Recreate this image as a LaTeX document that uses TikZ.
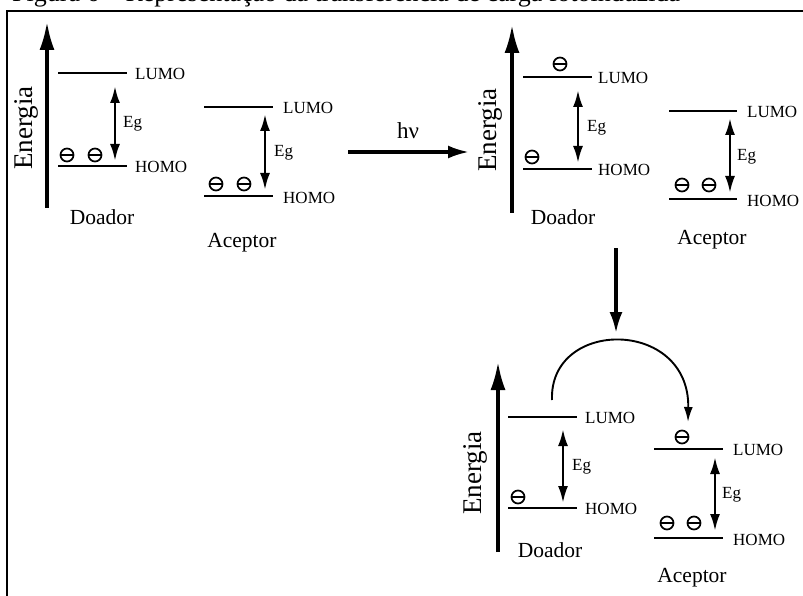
\documentclass[tikz,border=0pt]{standalone}
\usepackage{fontspec}
\setmainfont{Liberation Serif}
\usetikzlibrary{arrows.meta}
\begin{document}
\begin{tikzpicture}[x=1pt,y=-1pt,
  lvl/.style={line width=1.9pt},
  lbl/.style={anchor=west,inner sep=0pt,font=\fontsize{17}{19}\selectfont},
  eglbl/.style={anchor=west,inner sep=0pt,font=\fontsize{17}{19}\selectfont},
  molname/.style={inner sep=0pt,font=\fontsize{21.5}{23}\selectfont},
  energ/.style={inner sep=0pt,rotate=90,font=\fontsize{27}{29}\selectfont},
  eaxis/.style={line width=3.2pt,-{Latex[length=28pt,width=15pt]}},
  egarr/.style={line width=2.6pt,{Latex[length=17pt,width=10pt]}-{Latex[length=17pt,width=10pt]}},
  bigarr/.style={line width=3.2pt,-{Latex[length=21pt,width=13pt]}},
  elec/.style={circle,draw,line width=1.7pt,minimum size=13pt,inner sep=0pt,
    path picture={\draw[line width=1.7pt] ([xshift=-6pt]path picture bounding box.center) -- ([xshift=6pt]path picture bounding box.center);}}
]
\useasboundingbox (0,0) rectangle (803,596);
% caption (clipped by page edge)
\node[anchor=base west,inner sep=0pt,font=\fontsize{26}{28}\selectfont] (cap) at (12,1.5) {Figura 6 – Representação da transferência de carga fotoinduzida};
% frame
\draw[line width=2pt] (7,606) -- (7,11) -- (815,11);

% ===== Panel 1 =====
\coordinate (e1b) at (47,208); \coordinate (e1t) at (47,22);
\draw[eaxis] (e1b) -- (e1t);
\node[energ] (en1) at (26,128) {Energia};
% donor
\coordinate (d1La) at (58,73); \coordinate (d1Lb) at (127,73);
\coordinate (d1Ha) at (58,166); \coordinate (d1Hb) at (127,166);
\draw[lvl] (d1La) -- (d1Lb); \draw[lvl] (d1Ha) -- (d1Hb);
\node[lbl] (d1L) at (135,74) {LUMO};
\node[lbl] (d1H) at (135,167) {HOMO};
\coordinate (d1g1) at (115,86); \coordinate (d1g2) at (115,161);
\draw[egarr] (d1g1) -- (d1g2);
\node[eglbl] (d1eg) at (123,124) {Eg};
\node[elec] (d1e1) at (67,155) {};
\node[elec] (d1e2) at (95,155) {};
\node[molname] (d1n) at (102,217) {Doador};
% acceptor
\coordinate (a1La) at (204,107); \coordinate (a1Lb) at (273,107);
\coordinate (a1Ha) at (204,196); \coordinate (a1Hb) at (273,196);
\draw[lvl] (a1La) -- (a1Lb); \draw[lvl] (a1Ha) -- (a1Hb);
\node[lbl] (a1L) at (283,108) {LUMO};
\node[lbl] (a1H) at (283,198) {HOMO};
\coordinate (a1g1) at (265,114); \coordinate (a1g2) at (265,190);
\draw[egarr] (a1g1) -- (a1g2);
\node[eglbl] (a1eg) at (274,153) {Eg};
\node[elec] (a1e1) at (216,184) {};
\node[elec] (a1e2) at (244,184) {};
\node[molname] (a1n) at (242,243) {Aceptor};

% h nu arrow
\coordinate (hv1) at (348,152); \coordinate (hv2) at (469,152);
\draw[bigarr] (hv1) -- (hv2);
\node[inner sep=0pt,font=\fontsize{23}{25}\selectfont] (hv) at (408,131) {hν};

% ===== Panel 2 =====
\coordinate (e2b) at (512,213); \coordinate (e2t) at (512,25);
\draw[eaxis] (e2b) -- (e2t);
\node[energ] (en2) at (490,130) {Energia};
\coordinate (d2La) at (523,77); \coordinate (d2Lb) at (592,77);
\coordinate (d2Ha) at (523,169); \coordinate (d2Hb) at (592,169);
\draw[lvl] (d2La) -- (d2Lb); \draw[lvl] (d2Ha) -- (d2Hb);
\node[lbl] (d2L) at (598,78) {LUMO};
\node[lbl] (d2H) at (598,170) {HOMO};
\coordinate (d2g1) at (578,90); \coordinate (d2g2) at (578,163);
\draw[egarr] (d2g1) -- (d2g2);
\node[eglbl] (d2eg) at (587,128) {Eg};
\node[elec] (d2e1) at (560,64) {};
\node[elec] (d2e2) at (532,157) {};
\node[molname] (d2n) at (563,217) {Doador};
\coordinate (a2La) at (669,111); \coordinate (a2Lb) at (737,111);
\coordinate (a2Ha) at (669,199); \coordinate (a2Hb) at (737,199);
\draw[lvl] (a2La) -- (a2Lb); \draw[lvl] (a2Ha) -- (a2Hb);
\node[lbl] (a2L) at (747,112) {LUMO};
\node[lbl] (a2H) at (747,201) {HOMO};
\coordinate (a2g1) at (730,118); \coordinate (a2g2) at (730,193);
\draw[egarr] (a2g1) -- (a2g2);
\node[eglbl] (a2eg) at (737,157) {Eg};
\node[elec] (a2e1) at (682,185) {};
\node[elec] (a2e2) at (709,185) {};
\node[molname] (a2n) at (712,240) {Aceptor};

% down arrow
\coordinate (dn1) at (616,248); \coordinate (dn2) at (616,333);
\draw[bigarr] (dn1) -- (dn2);

% ===== Panel 3 =====
\coordinate (e3b) at (498,552); \coordinate (e3t) at (498,362);
\draw[eaxis] (e3b) -- (e3t);
\node[energ] (en3) at (475,473) {Energia};
\coordinate (d3La) at (508,417); \coordinate (d3Lb) at (577,417);
\coordinate (d3Ha) at (508,508); \coordinate (d3Hb) at (577,508);
\draw[lvl] (d3La) -- (d3Lb); \draw[lvl] (d3Ha) -- (d3Hb);
\node[lbl] (d3L) at (585,418) {LUMO};
\node[lbl] (d3H) at (585,509) {HOMO};
\coordinate (d3g1) at (563,429); \coordinate (d3g2) at (563,503);
\draw[egarr] (d3g1) -- (d3g2);
\node[eglbl] (d3eg) at (572,467) {Eg};
\node[elec] (d3e1) at (518,497) {};
\node[molname] (d3n) at (550,550) {Doador};
\coordinate (a3La) at (654,449); \coordinate (a3Lb) at (723,449);
\coordinate (a3Ha) at (654,538); \coordinate (a3Hb) at (723,538);
\draw[lvl] (a3La) -- (a3Lb); \draw[lvl] (a3Ha) -- (a3Hb);
\node[lbl] (a3L) at (733,450) {LUMO};
\node[lbl] (a3H) at (733,540) {HOMO};
\coordinate (a3g1) at (715,457); \coordinate (a3g2) at (715,531);
\draw[egarr] (a3g1) -- (a3g2);
\node[eglbl] (a3eg) at (722,495) {Eg};
\node[elec] (a3e0) at (682,437) {};
\node[elec] (a3e1) at (667,523) {};
\node[elec] (a3e2) at (694,523) {};
\node[molname] (a3n) at (692,578) {Aceptor};
% transfer arc
\coordinate (tr1) at (552,400); \coordinate (tr2) at (688,422);
\draw[line width=1.9pt,-{Latex[length=15pt,width=9pt]}] (tr1) .. controls (549,318) and (690,318) .. (tr2);
\end{tikzpicture}
\end{document}
